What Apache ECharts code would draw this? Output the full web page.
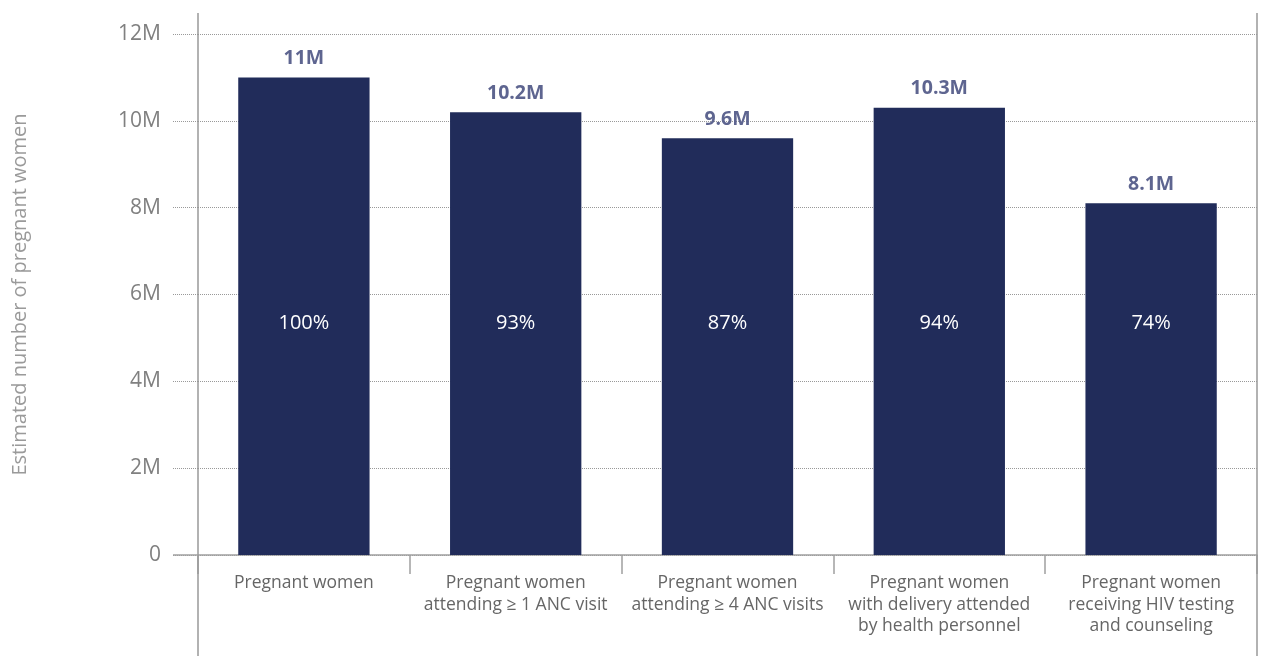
<!DOCTYPE html>
<html>
<head>
<meta charset="utf-8">
<script src="https://cdn.jsdelivr.net/npm/echarts@6/dist/echarts.min.js"></script>
<style>html,body{margin:0;padding:0;background:#fff;}#c{width:1261px;height:656px;}</style>
</head>
<body>
<div id="c"></div>
<script>
const categories = [
  'Pregnant women',
  'Pregnant women\nattending \u2265 1 ANC visit',
  'Pregnant women\nattending \u2265 4 ANC visits',
  'Pregnant women\nwith delivery attended\nby health personnel',
  'Pregnant women\nreceiving HIV testing\nand counseling'
];
const values = [11000000, 10200000, 9600000, 10300000, 8100000];
const valueLabels = ['11M', '10.2M', '9.6M', '10.3M', '8.1M'];
const pctLabels = ['100%', '93%', '87%', '94%', '74%'];
const yTicks = [0, 2000000, 4000000, 6000000, 8000000, 10000000, 12000000];

const FONT = '"Open Sans", "Noto Sans", sans-serif';
const G = {left: 198, right: 4, top: 34, bottom: 101};
const W = 1261, H = 656;
const zeroY = H - G.bottom;

const chart = echarts.init(document.getElementById('c'), null, {renderer: 'canvas'});
chart.setOption({
  animation: false,
  grid: {left: G.left, right: G.right, top: G.top, bottom: G.bottom, containLabel: false},
  xAxis: {
    type: 'category',
    data: categories,
    axisLine: {show: true, lineStyle: {color: '#a0a0a0', width: 1.5}},
    axisTick: {show: true, length: 19, interval: 0, lineStyle: {color: '#a0a0a0', width: 1.5}},
    axisLabel: {interval: 0, margin: 17, color: '#666', fontFamily: FONT, fontSize: 17.5, lineHeight: 21.7, align: 'center'},
    splitLine: {show: false}
  },
  yAxis: {
    type: 'value',
    min: yTicks[0],
    max: yTicks[yTicks.length - 1],
    interval: yTicks[1] - yTicks[0],
    name: 'Estimated number of pregnant women',
    nameLocation: 'middle',
    nameRotate: 90,
    nameGap: 168,
    nameTextStyle: {color: '#9a9a9a', fontFamily: FONT, fontSize: 20},
    axisLine: {show: false},
    axisTick: {show: true, length: 25, lineStyle: {color: '#999', type: 'dotted', width: 1}},
    axisLabel: {
      margin: 37, color: '#808080', fontFamily: FONT, fontSize: 21,
      formatter: v => v === 0 ? '0' : (v / 1000000) + 'M'
    },
    splitLine: {show: true, lineStyle: {color: '#999', type: 'dotted', width: 1}}
  },
  series: [
    {
      type: 'bar',
      data: values,
      barWidth: '62%',
      barGap: '-100%',
      itemStyle: {color: '#212c5a'},
      label: {
        show: true, position: 'top', distance: 9,
        color: '#5e6590', fontFamily: FONT, fontWeight: 'bold', fontSize: 19.5,
        formatter: p => valueLabels[p.dataIndex]
      },
      z: 2
    },
    {
      type: 'bar',
      data: values,
      barWidth: '62%',
      barGap: '-100%',
      itemStyle: {color: 'rgba(0,0,0,0)'},
      label: {
        show: true, position: 'insideBottom', distance: 222,
        color: '#ffffff', fontFamily: FONT, fontSize: 20, lineHeight: 20,
        formatter: p => pctLabels[p.dataIndex]
      },
      z: 3
    }
  ],
  graphic: [
    {type: 'line', shape: {x1: G.left, y1: 13, x2: G.left, y2: H}, style: {stroke: '#999', lineWidth: 1.5}, z: 10},
    {type: 'line', shape: {x1: W - G.right, y1: 13, x2: W - G.right, y2: H}, style: {stroke: '#999', lineWidth: 1.5}, z: 10},
    {type: 'line', shape: {x1: G.left - 25, y1: zeroY, x2: G.left, y2: zeroY}, style: {stroke: '#a0a0a0', lineWidth: 1.5}, z: 10}
  ]
});
</script>
</body>
</html>
